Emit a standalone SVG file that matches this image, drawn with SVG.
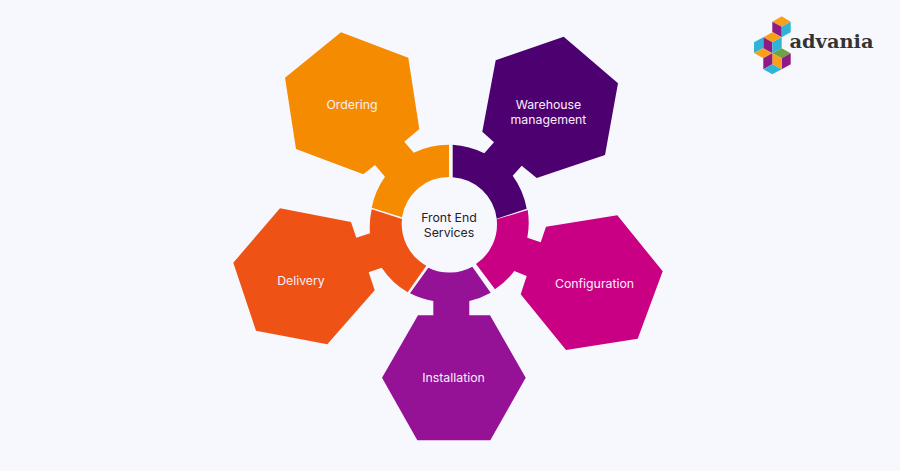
<svg xmlns="http://www.w3.org/2000/svg" width="900" height="471" viewBox="0 0 900 471">
<style>
.lbl{font-family:"Inter","Liberation Sans",sans-serif;font-size:12.3px;fill:#fbeefc;text-anchor:middle}
.ctr{font-family:"Inter","Liberation Sans",sans-serif;font-size:12.3px;fill:#222;text-anchor:middle}
.logo{font-family:"DejaVu Serif",serif;font-weight:700;font-size:19.4px;fill:#333}
.o{fill:#f9a01b}.p{fill:#8f1a86}.c{fill:#2fb4d6}.g{fill:#6fa243}
</style>
<rect width="900" height="471" fill="#f7f8fe"/>
<g id="ordering">
<path fill="#f58b00" d="M341 32.3L408.3 57.7L419.3 129L404.3 141.7L413.7 152.7A80 80 0 0 1 449 144.7V176.9A47.5 47.5 0 0 0 402 217.3L371.7 207.7A80 80 0 0 1 385 176.7L375 165L363.3 174.3L296 149L285 77.7Z"/>
<text class="lbl" x="352" y="109">Ordering</text>
</g>
<g id="warehouse">
<path fill="#4d0070" d="M563.7 36.7L618 83.3L605 155L536.7 178L521.7 165.7L512.7 175.7A80 80 0 0 1 526.7 208.7L496.7 218.7A47.5 47.5 0 0 0 452.7 177.2V144.7A80 80 0 0 1 484.3 153.3L494 142.3L482.3 131.7L495.7 60.3Z"/>
<text class="lbl" x="548.500" y="108.500">Warehouse</text>
<text class="lbl" x="548.500" y="124">management</text>
</g>
<g id="configuration">
<path fill="#c90084" d="M617.3 215.3L662.7 271.3L637.7 338.7L566 350L520.7 294.300L526.700 276L514.300 271A80 80 0 0 1 495 289.300L476 264A47.500 47.500 0 0 0 496.700 219.300L527.700 210A80 80 0 0 1 527.300 237.700L540.700 242.300L546 226.700Z"/>
<text class="lbl" x="594.500" y="287.500">Configuration</text>
</g>
<g id="installation">
<path fill="#951296" d="M428.300 267.700A47.500 47.500 0 0 0 472.300 266.700L490.700 292.700A80 80 0 0 1 469.300 301V315.300H490L525.700 377.700L490.300 440.300H417.300L382 377.700L418 315.300H433.300V301A80 80 0 0 1 410 293.300Z"/>
<text class="lbl" x="453.500" y="381.500">Installation</text>
</g>
<g id="delivery">
<path fill="#ee5315" d="M280 208.300L351 222L356.300 237.700L370 233.300A80 80 0 0 1 371.700 209.300L402 219A47.500 47.500 0 0 0 426.300 265.700L407.700 292.300A80 80 0 0 1 381.700 267.700L368.700 272.300L374.700 290.300L327.300 344.300L256 330.700L233.300 262.700Z"/>
<text class="lbl" x="301" y="285">Delivery</text>
</g>
<g id="front-end">
<text class="ctr" x="449" y="221.500">Front End</text>
<text class="ctr" x="449" y="237">Services</text>
</g>
<g id="logo">
<!-- isometric cube mark -->
<polygon class="o" points="781.700,16.300 790.700,21.700 781.700,26.700 772.300,21.700"/>
<polygon class="p" points="772.300,21.700 781.700,26.700 781.700,37.300 772.300,32"/>
<polygon class="c" points="781.700,26.700 790.700,21.700 790.700,32.300 781.700,37.300"/>
<polygon class="o" points="772.300,32.300 781.700,37.300 772.300,42.300 763.300,37.300"/>
<polygon class="p" points="763.300,37.300 772.300,42.300 772.300,53.300 763.300,48.300"/>
<polygon class="c" points="772.300,42.300 781.700,37.300 781.700,48.300 772.300,53.300"/>
<polygon class="c" points="754,42.300 763.300,37.300 763.300,48.300 754,53"/>
<polygon class="o" points="763.300,48.300 772.300,53.300 763.300,58.300 754,53"/>
<polygon class="g" points="781.700,48.300 790.700,53.300 781.700,58.300 772.300,53.300"/>
<polygon class="p" points="781.700,58.300 790.700,53.300 790.700,64.300 781.700,69.300"/>
<polygon class="o" points="772.300,53.300 781.700,58.300 781.700,69.300 772.300,64.300"/>
<polygon class="p" points="763.300,58.300 772.300,53.300 772.300,64.300 763.300,69.300"/>
<polygon class="c" points="763.300,69.300 772.300,64.300 781.700,69.300 772.300,74.300"/>
<text class="logo" x="789.500" y="47.500">advania</text>
</g>
</svg>
